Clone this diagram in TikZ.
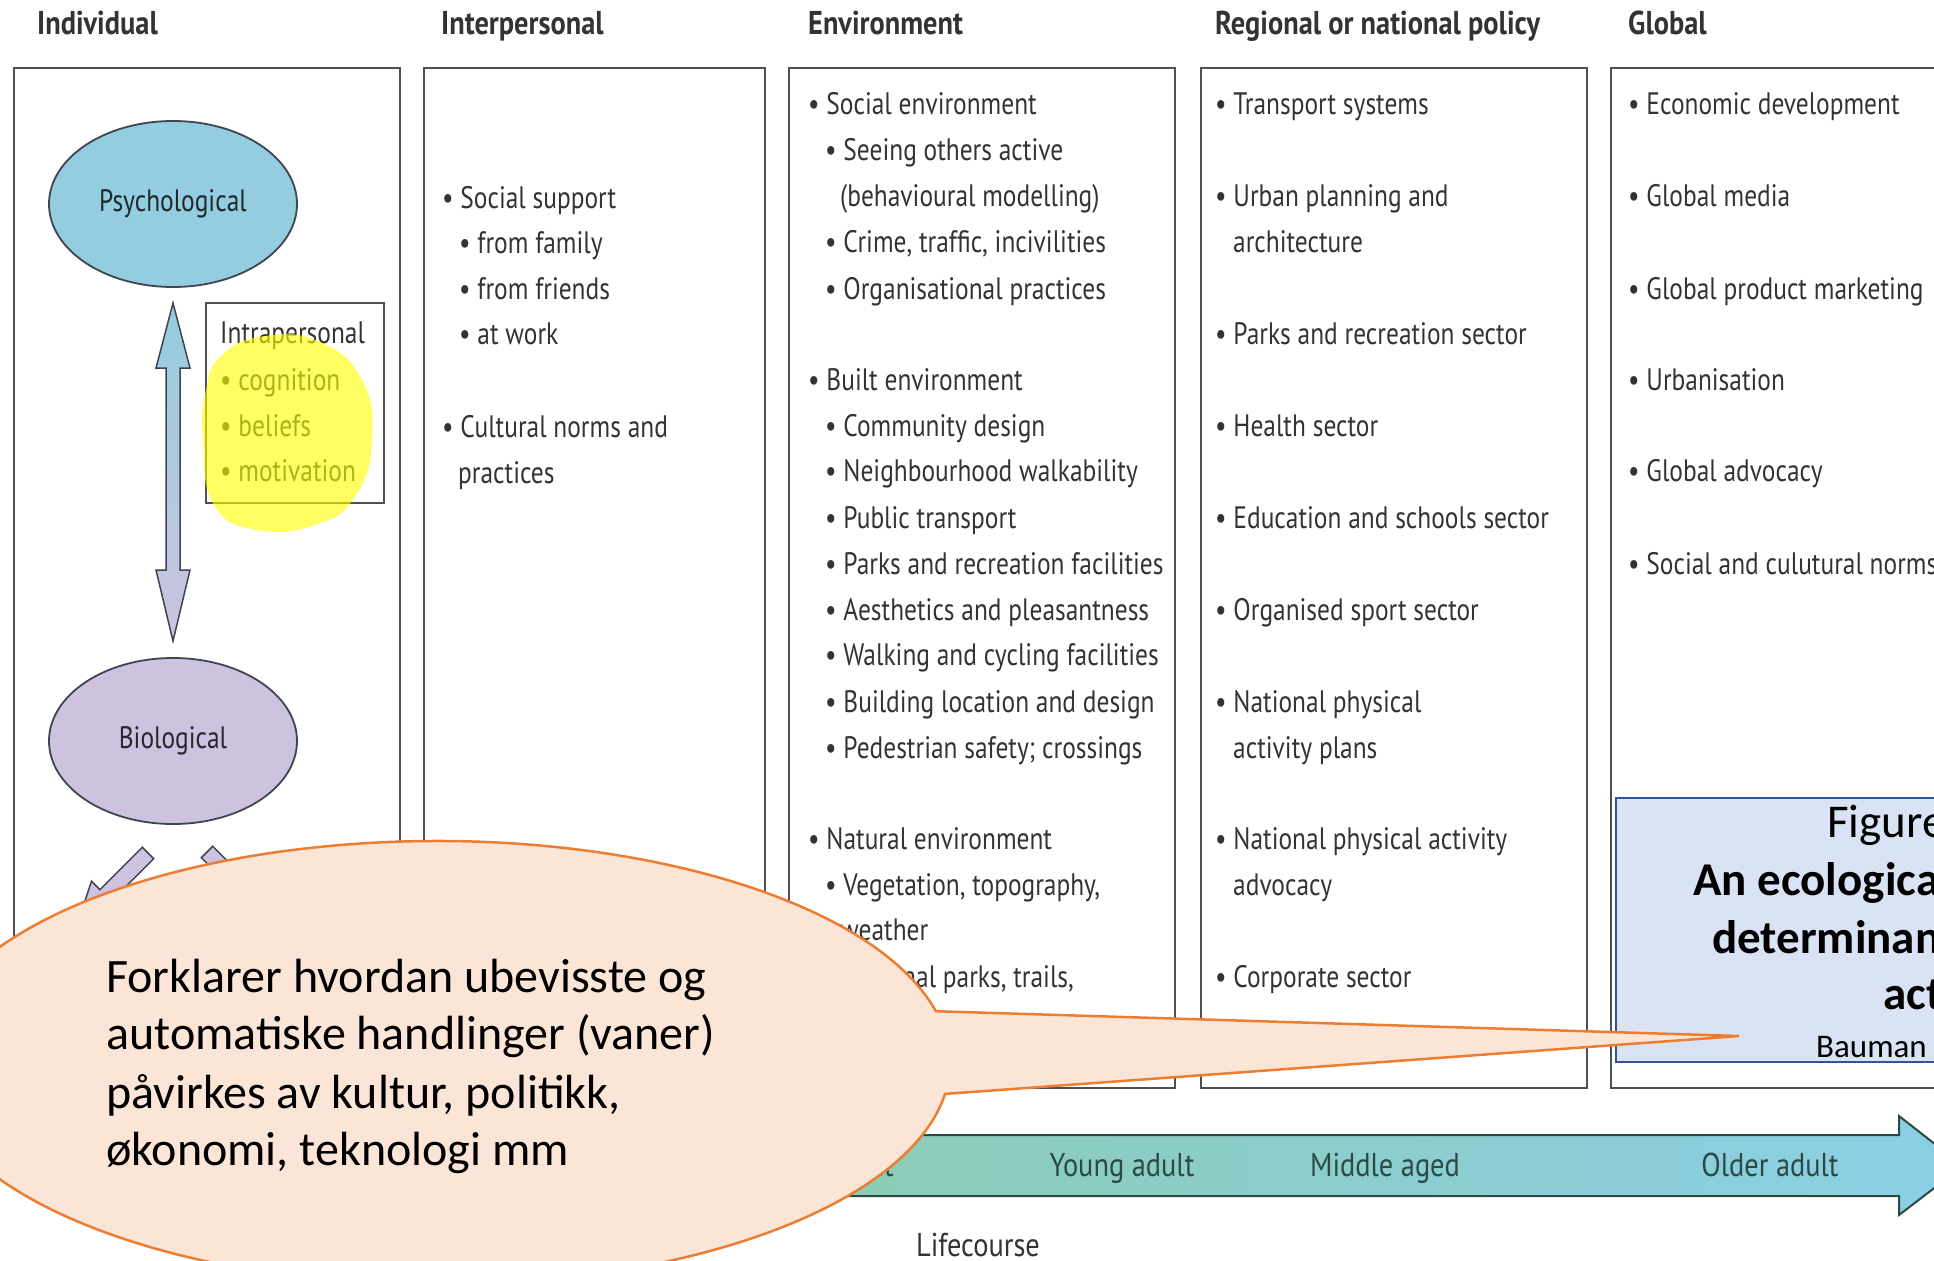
\documentclass[tikz,border=0pt]{standalone}
\usepackage{fontspec}
\setmainfont{Carlito}
\newfontfamily\lan[FakeStretch=0.82]{PT Sans}
\newfontfamily\lanh[FakeStretch=0.86]{PT Sans}
\usetikzlibrary{shapes.geometric}
\definecolor{textgray}{HTML}{333333}
\definecolor{boxgray}{HTML}{505050}
\definecolor{psyblue}{HTML}{93CDDF}
\definecolor{biolav}{HTML}{CDC3E0}
\definecolor{ovalline}{HTML}{3D4550}
\definecolor{callfill}{HTML}{FBE5D6}
\definecolor{callline}{HTML}{ED7D31}
\definecolor{figfill}{HTML}{DAE3F3}
\definecolor{figline}{HTML}{2F5597}
\definecolor{lcgreen}{HTML}{8DCB98}
\definecolor{lcblue}{HTML}{8BCFE6}
\definecolor{lctext}{HTML}{2B4A45}
\definecolor{hiyellow}{HTML}{FFFF00}
\begin{document}
\begin{tikzpicture}[x=1pt,y=-1pt,
  txt/.style={font=\lan\fontsize{31}{37}\selectfont, text=textgray, inner sep=0pt, anchor=base west},
  hdr/.style={font=\lanh\bfseries\fontsize{33}{40}\selectfont, text=textgray, inner sep=0pt, anchor=base west},
  colbox/.style={draw=boxgray, line width=2.5pt},
  oval/.style={ellipse, draw=ovalline, line width=1.8pt, minimum width=248pt, minimum height=166pt, inner sep=0pt, font=\lan\fontsize{31}{37}\selectfont},
  lctxt/.style={font=\lanh\fontsize{33}{40}\selectfont, text=lctext, inner sep=0pt, anchor=base},
  calltxt/.style={font=\fontsize{48}{58}\selectfont, text=black, inner sep=0pt, anchor=base west},
  figtxt/.style={font=\fontsize{47}{57}\selectfont, text=black, inner sep=0pt, anchor=base west},
  figbold/.style={font=\bfseries\fontsize{47}{57}\selectfont, text=black, inner sep=0pt, anchor=base west},
  blockarrow/.style={draw=ovalline, line width=1.5pt, fill=biolav}
]
\useasboundingbox (0,0) rectangle (1934,1260);
\clip (0,0) rectangle (1934,1260);
\fill[white] (0,0) rectangle (1934,1260);

% headers
\node[hdr] (hInd) at (37,35) {Individual};
\node[hdr] (hInt) at (441,35) {Interpersonal};
\node[hdr] (hEnv) at (808,35) {Environment};
\node[hdr] (hReg) at (1215,35) {Regional or national policy};
\node[hdr] (hGlo) at (1628,35) {Global};

% column boxes
\draw[colbox] (14,68) rectangle (400,1088);
\draw[colbox] (424,68) rectangle (765,1088);
\draw[colbox] (789,68) rectangle (1175,1088);
\draw[colbox] (1201,68) rectangle (1587,1088);
\draw[colbox] (1611,68) rectangle (2000,1088);

% Individual column
\node[oval, fill=psyblue, text=black!80!psyblue] (psy) at (173,204) {Psychological};
\node[oval, fill=biolav, text=black!80!biolav] (bio) at (173,741) {Biological};
\path[draw=ovalline, line width=1.5pt, top color=psyblue, bottom color=biolav]
  (173,303) -- (190,368) -- (180,368) -- (180,570) -- (190,570) -- (173,641)
  -- (156,570) -- (166,570) -- (166,368) -- (156,368) -- cycle;
\draw[colbox, line width=2pt] (206,303) rectangle (384,503);
\node[txt] (ip0) at (220,343) {Intrapersonal};
\node[txt] (ip1) at (220,390) {• cognition};
\node[txt] (ip2) at (220,436) {• beliefs};
\node[txt] (ip3) at (220,481) {• motivation};
\fill[hiyellow, fill opacity=0.62] plot[smooth cycle, tension=0.8] coordinates
  {(222,355) (265,336) (320,342) (362,380) (372,440) (356,495) (318,524) (258,530) (214,505) (203,440) (206,390)};

% diagonal block arrows under Biological
\path[blockarrow] (153.7,858.7) -- (111.3,901.1) -- (119.7,909.5) -- (77.3,923.7)
  -- (91.5,881.3) -- (99.9,889.7) -- (142.3,847.3) -- cycle;
\path[blockarrow] (212.7,846.3) -- (255.1,888.7) -- (263.5,880.3) -- (277.7,922.7)
  -- (235.3,908.5) -- (243.7,900.1) -- (201.3,857.7) -- cycle;

% Interpersonal column
\node[txt] (p1) at (442,208) {• Social support};
\node[txt] (p2) at (459,253) {• from family};
\node[txt] (p3) at (459,299) {• from friends};
\node[txt] (p4) at (459,344) {• at work};
\node[txt] (p5) at (442,437) {• Cultural norms and};
\node[txt] (p6) at (458,483) {practices};

% Environment column
\node[txt] (e1) at (808,115) {• Social environment};
\node[txt] (e2) at (825,161) {• Seeing others active};
\node[txt] (e3) at (840,206) {(behavioural modelling)};
\node[txt] (e4) at (825,252) {• Crime, traffic, incivilities};
\node[txt] (e5) at (825,299) {• Organisational practices};
\node[txt] (e6) at (808,390) {• Built environment};
\node[txt] (e7) at (825,436) {• Community design};
\node[txt] (e8) at (825,481) {• Neighbourhood walkability};
\node[txt] (e9) at (825,528) {• Public transport};
\node[txt] (e10) at (825,574) {• Parks and recreation facilities};
\node[txt] (e11) at (825,620) {• Aesthetics and pleasantness};
\node[txt] (e12) at (825,665) {• Walking and cycling facilities};
\node[txt] (e13) at (825,712) {• Building location and design};
\node[txt] (e14) at (825,758) {• Pedestrian safety; crossings};
\node[txt] (e15) at (808,849) {• Natural environment};
\node[txt] (e16) at (825,895) {• Vegetation, topography,};
\node[txt] (e17) at (840,940) {weather};
\node[txt] (e18) at (825,987) {• National parks, trails,};

% Regional column
\node[txt] (r1) at (1215,115) {• Transport systems};
\node[txt] (r2) at (1215,206) {• Urban planning and};
\node[txt] (r3) at (1233,252) {architecture};
\node[txt] (r4) at (1215,344) {• Parks and recreation sector};
\node[txt] (r5) at (1215,436) {• Health sector};
\node[txt] (r6) at (1215,528) {• Education and schools sector};
\node[txt] (r7) at (1215,620) {• Organised sport sector};
\node[txt] (r8) at (1215,712) {• National physical};
\node[txt] (r9) at (1233,758) {activity plans};
\node[txt] (r10) at (1215,849) {• National physical activity};
\node[txt] (r11) at (1233,895) {advocacy};
\node[txt] (r12) at (1215,987) {• Corporate sector};

% Global column
\node[txt] (g1) at (1628,115) {• Economic development};
\node[txt] (g2) at (1628,206) {• Global media};
\node[txt] (g3) at (1628,299) {• Global product marketing};
\node[txt] (g4) at (1628,390) {• Urbanisation};
\node[txt] (g5) at (1628,481) {• Global advocacy};
\node[txt] (g6) at (1628,574) {• Social and culutural norms};

% Figure box
\path[fill=figfill, draw=figline, line width=2pt] (1616,798) rectangle (2000,1062);
\node[figtxt] (f1) at (1827,837) {Figure};
\node[figbold] (f2) at (1693,895) {An ecologica};
\node[figbold] (f3) at (1712,953) {determinan};
\node[figbold] (f4) at (1883,1009) {act};
\node[figtxt, font=\fontsize{33}{40}\selectfont] (f5) at (1816,1057) {Bauman};

% Lifecourse arrow
\path[draw=lctext, line width=2pt, left color=lcgreen, right color=lcblue]
  (50,1135) -- (1899,1135) -- (1899,1116) -- (1963,1166) -- (1899,1215) -- (1899,1196) -- (50,1196) -- cycle;
\node[lctxt, anchor=base east] (lc1) at (894,1176) {Adolescent};
\node[lctxt] (lc2) at (1122,1176) {Young adult};
\node[lctxt] (lc3) at (1385,1176) {Middle aged};
\node[lctxt] (lc4) at (1770,1176) {Older adult};
\node[lctxt, text=textgray] (lcl) at (978,1256) {Lifecourse};

% Callout
\path[fill=callfill, draw=callline, line width=2.5pt]
  (935.8,1011.2) arc[start angle=-13.5, end angle=-352, x radius=513, y radius=222]
  -- (1739,1036) -- cycle;
\node[calltxt] (c1) at (106,992) {Forklarer hvordan ubevisste og};
\node[calltxt] (c2) at (106,1049) {automatiske handlinger (vaner)};
\node[calltxt] (c3) at (106,1108) {påvirkes av kultur, politikk,};
\node[calltxt] (c4) at (106,1165) {økonomi, teknologi mm};
\end{tikzpicture}
\end{document}
